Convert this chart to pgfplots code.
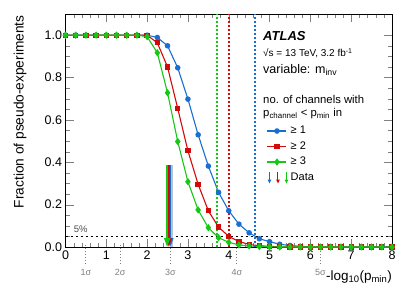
\documentclass[border=0pt]{standalone}
\usepackage{pgfplots}
\pgfplotsset{compat=1.18}
\usepackage{pgfplotstable}
\usepackage{fontspec}
\setmainfont{Liberation Sans}
\usetikzlibrary{arrows.meta}
\definecolor{cblue}{RGB}{25,110,210}
\definecolor{cred}{RGB}{210,10,10}
\definecolor{cgreen}{RGB}{20,200,20}
\pgfplotstableread{
x blue red green
0.00 1 1 1
0.25 1 1 1
0.50 1 1 1
0.75 1 1 1
1.00 1 1 1
1.25 1 1 1
1.50 1 1 1
1.75 1 1 1
2.00 1 1 0.993
2.25 0.989 0.964 0.917
2.50 0.950 0.850 0.728
2.75 0.846 0.654 0.498
3.00 0.698 0.454 0.308
3.25 0.530 0.296 0.175
3.50 0.382 0.171 0.091
3.75 0.258 0.094 0.044
4.00 0.171 0.050 0.022
4.25 0.108 0.026 0.010
4.50 0.067 0.012 0.005
4.75 0.039 0.006 0.002
5.00 0.025 0.003 0.001
5.25 0.013 0.001 0
5.50 0.007 0 0
5.75 0.003 0 0
6.00 0.001 0 0
6.25 0 0 0
6.50 0 0 0
6.75 0 0 0
7.00 0 0 0
7.25 0 0 0
7.50 0 0 0
7.75 0 0 0
8.00 0 0 0
}\datatable
\begin{document}
\begin{tikzpicture}
\path[use as bounding box] (0,0) rectangle (411pt,295pt);
\begin{axis}[
  at={(65.5pt,48pt)}, anchor=south west,
  scale only axis, width=326.5pt, height=233pt,
  xmin=0, xmax=8, ymin=0, ymax=1.1,
  xtick={0,1,...,8}, ytick={0,0.2,0.4,0.6,0.8,1.0},
  minor x tick num=4, minor y tick num=3,
  tick align=inside, major tick length=8pt, minor tick length=4pt,
  xtick pos=both, ytick pos=both,
  /pgf/number format/assume math mode=true,
  yticklabel style={/pgf/number format/.cd, fixed, fixed zerofill, precision=1},
  tick label style={font=\fontsize{12.5}{14}\selectfont},
  clip=false,
  axis line style={black, line width=0.6pt},
  legend style={at={(axis cs:4.93,0.585)}, anchor=north west, draw=none, fill=none,
    font=\fontsize{11}{13}\selectfont, row sep=0pt, inner sep=0pt,
    nodes={inner sep=2.5pt, text height=8pt, text depth=2.5pt}},
  legend cell align=left,
  legend image code/.code={\draw[mark repeat=2,mark phase=2,#1] plot coordinates {(0pt,0pt) (9.5pt,0pt) (19pt,0pt)};},
]
\addplot[cblue, line width=1.1pt, mark=*, mark size=2.2pt] table[x=x,y=blue] {\datatable};
\addlegendentry{≥ 1}
\addplot[cred, line width=1.1pt, mark=square*, mark size=2.1pt] table[x=x,y=red] {\datatable};
\addlegendentry{≥ 2}
\addplot[cgreen, line width=1.1pt, mark=diamond*, mark size=2.8pt] table[x=x,y=green] {\datatable};
\addlegendentry{≥ 3}
\addlegendimage{legend image code/.code={
  \draw[cblue, line width=1pt, -{Triangle[width=3.5pt,length=4pt]}] (2pt,6pt) -- (2pt,-6pt);
  \draw[cred, line width=1pt, -{Triangle[width=3.5pt,length=4pt]}] (10.5pt,6pt) -- (10.5pt,-6pt);
  \draw[cgreen, line width=1pt, -{Triangle[width=3.5pt,length=4pt]}] (19pt,6pt) -- (19pt,-6pt);
}}
\addlegendentry{Data}
% vertical dotted lines
\addplot[draw=cgreen, line width=1.9pt, line cap=butt, dash pattern=on 2pt off 2pt, forget plot] coordinates {(3.72,0) (3.72,1.1)};
\addplot[draw=cred, line width=1.9pt, line cap=butt, dash pattern=on 2pt off 2pt, forget plot] coordinates {(4.0,0) (4.0,1.1)};
\addplot[draw=cblue, line width=1.9pt, line cap=butt, dash pattern=on 2pt off 2pt, forget plot] coordinates {(4.65,0) (4.65,1.1)};
% 5% line
\addplot[draw=black, line width=1.6pt, line cap=butt, dash pattern=on 2pt off 3pt, forget plot] coordinates {(0,0.05) (8,0.05)};
% data arrows
\addplot[draw=cblue!35!gray!45, line width=1.4pt, forget plot] coordinates {(2.605,0.385) (2.605,0)};
\addplot[draw=cblue, line width=1.5pt, forget plot, -{Triangle[width=6pt,length=9pt]}] coordinates {(2.57,0.385) (2.57,0)};
\addplot[draw=cred, line width=1.5pt, forget plot, -{Triangle[width=6pt,length=9pt]}] coordinates {(2.533,0.385) (2.533,0)};
\addplot[draw=cgreen, line width=1.7pt, forget plot, -{Triangle[width=6pt,length=9pt]}] coordinates {(2.49,0.385) (2.49,0)};
% sigma markers
\addplot[gray, dotted, line width=1pt, forget plot] coordinates {(0.4985,0.01) (0.4985,-0.085)};
\addplot[gray, dotted, line width=1pt, forget plot] coordinates {(1.342,0.01) (1.342,-0.085)};
\addplot[gray, dotted, line width=1pt, forget plot] coordinates {(2.569,0.01) (2.569,-0.085)};
\addplot[gray, dotted, line width=1pt, forget plot] coordinates {(4.199,0.01) (4.199,-0.085)};
\addplot[gray, dotted, line width=1pt, forget plot] coordinates {(6.243,0.01) (6.243,-0.085)};
\node[gray, font=\fontsize{9}{10}\selectfont] at (axis cs:0.4985,-0.12) {1σ};
\node[gray, font=\fontsize{9}{10}\selectfont] at (axis cs:1.342,-0.12) {2σ};
\node[gray, font=\fontsize{9}{10}\selectfont] at (axis cs:2.569,-0.12) {3σ};
\node[gray, font=\fontsize{9}{10}\selectfont] at (axis cs:4.199,-0.12) {4σ};
\node[gray, font=\fontsize{9}{10}\selectfont] at (axis cs:6.243,-0.12) {5σ};
\node[black!70, font=\fontsize{9.5}{10}\selectfont] at (axis cs:0.375,0.085) {5\%};
% texts
\node[anchor=west, font=\fontsize{13}{15}\selectfont\bfseries\itshape, inner sep=0pt] at (axis cs:4.84,0.995) {ATLAS};
\node[anchor=west, font=\fontsize{10}{12}\selectfont, inner sep=0pt] at (axis cs:4.84,0.915) {\char"221A s = 13 TeV, 3.2 fb\textsuperscript{-1}};
\node[anchor=west, font=\fontsize{12.5}{14}\selectfont, inner sep=0pt] at (axis cs:4.84,0.835) {variable: m\textsubscript{inv}};
\node[anchor=west, font=\fontsize{11.3}{13}\selectfont, inner sep=0pt] at (axis cs:4.84,0.697) {no. of channels with};
\node[anchor=west, font=\fontsize{11.3}{13}\selectfont, inner sep=0pt] at (axis cs:4.84,0.628) {p\textsubscript{channel} < p\textsubscript{min} in};
% axis labels
\node[rotate=90, anchor=east, font=\fontsize{13.7}{15}\selectfont, inner sep=0pt] at (axis cs:-1.115,1.094) {Fraction of pseudo-experiments};
\node[anchor=east, font=\fontsize{13.5}{15}\selectfont, inner sep=0pt] at (axis cs:8.0,-0.14) {-log\textsubscript{10}(p\textsubscript{min})};
\end{axis}
\end{tikzpicture}
\end{document}
